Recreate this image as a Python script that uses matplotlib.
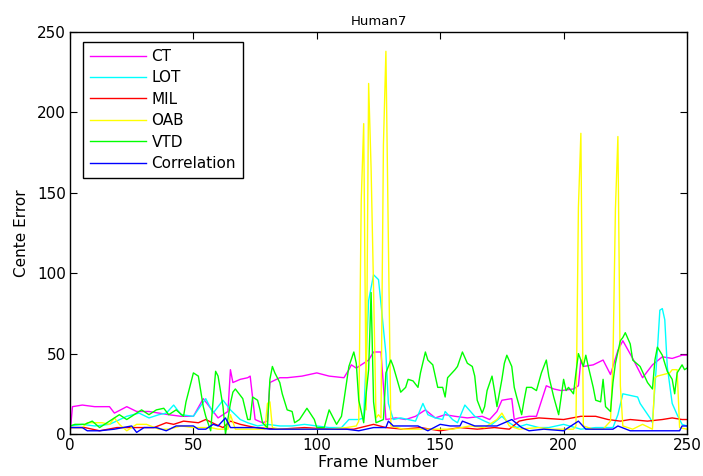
import matplotlib
matplotlib.use("Agg")
import matplotlib.pyplot as plt

plt.rcParams['font.family'] = ['DejaVu Sans']

# CT (magenta)
ct_frames = [0, 1, 5, 10, 16, 18, 23, 27, 32, 36, 40, 45, 50, 54, 57, 60, 62, 64, 65, 66,
             69, 72, 73, 75, 78, 80, 81, 85, 88, 94, 100, 105, 111, 113, 114, 116, 121, 123, 126, 127,
             128, 132, 136, 140, 144, 148, 152, 156, 161, 167, 170, 173, 175, 179, 180, 182, 186, 189, 193, 196,
             199, 204, 206, 207, 208, 212, 216, 219, 222, 224, 228, 232, 236, 240, 244, 248, 250]
ct_err = [0, 17, 18, 17, 17, 13, 17, 14, 14, 13, 12, 11, 11, 22, 16, 10, 12, 14, 40, 32,
          34, 35, 36, 9, 7, 8, 32, 35, 35, 36, 38, 36, 35, 40, 43, 41, 46, 51, 51, 30,
          9, 10, 9, 11, 15, 10, 12, 11, 10, 11, 9, 14, 21, 22, 9, 10, 11, 11, 30, 28,
          27, 28, 30, 46, 42, 43, 46, 37, 52, 58, 47, 35, 43, 48, 47, 49, 49]

# LOT (cyan)
lot_frames = [0, 5, 10, 16, 23, 28, 32, 36, 39, 42, 45, 50, 55, 58, 62, 65, 69, 72, 76, 80,
              85, 90, 95, 100, 105, 110, 113, 117, 119, 121, 123, 125, 126, 128, 129, 130, 131, 134, 137, 140,
              143, 145, 148, 151, 152, 155, 157, 160, 164, 168, 171, 175, 177, 181, 185, 190, 194, 200, 207, 213,
              220, 222, 224, 230, 231, 235, 236, 238, 239, 240, 241, 242, 244, 246, 248, 250]
lot_err = [5, 6, 5, 6, 11, 13, 10, 12, 13, 18, 12, 11, 22, 13, 21, 15, 9, 7, 5, 6,
           5, 5, 6, 5, 4, 4, 9, 9, 10, 83, 99, 96, 81, 50, 19, 14, 9, 10, 9, 8,
           19, 12, 10, 9, 14, 9, 7, 18, 11, 8, 6, 11, 8, 4, 6, 4, 4, 6, 3, 4,
           4, 12, 25, 23, 19, 10, 7, 52, 77, 78, 71, 42, 19, 12, 6, 5]

# MIL (red)
mil_frames = [0, 6, 12, 19, 26, 34, 39, 42, 46, 52, 55, 59, 62, 65, 69, 75, 85, 95, 105, 115,
              123, 128, 135, 142, 150, 158, 165, 172, 178, 182, 185, 190, 200, 207, 213, 218, 223, 227, 234, 240,
              244, 248, 250]
mil_err = [4, 4, 2, 4, 4, 4, 7, 6, 8, 7, 9, 6, 4, 8, 6, 4, 3, 4, 3, 3,
           6, 4, 3, 4, 2, 4, 3, 4, 3, 8, 9, 10, 9, 11, 11, 9, 8, 9, 8, 9,
           10, 9, 9]

# OAB (yellow)
oab_frames = [0, 5, 7, 13, 16, 18, 20, 23, 27, 31, 36, 40, 45, 50, 57, 60, 64, 65, 67, 75,
              79, 80, 81, 82, 85, 95, 105, 112, 116, 117, 118, 119, 120, 121, 122, 123, 124, 125, 126, 127,
              128, 129, 130, 135, 145, 155, 162, 168, 173, 175, 178, 182, 190, 195, 200, 204, 205, 206, 207, 208,
              212, 216, 219, 220, 221, 222, 223, 224, 228, 232, 236, 237, 238, 243, 244, 246, 247, 250]
oab_err = [4, 4, 7, 7, 6, 10, 6, 2, 6, 6, 3, 3, 5, 4, 4, 3, 3, 12, 3, 3,
           3, 19, 20, 4, 3, 3, 3, 4, 5, 8, 145, 193, 15, 218, 165, 90, 10, 12, 10, 180,
           238, 120, 5, 3, 3, 3, 5, 4, 9, 13, 5, 3, 4, 3, 3, 3, 5, 141, 187, 5,
           3, 3, 8, 45, 140, 185, 30, 5, 3, 6, 3, 35, 36, 38, 40, 40, 4, 3]

# VTD (green)
vtd_frames = [0, 2, 6, 9, 12, 15, 17, 20, 23, 26,
              29, 32, 35, 38, 40, 43, 46, 47, 50, 52,
              54, 55, 57, 58, 59, 60, 62, 63, 65, 66,
              67, 70, 72, 73, 74, 76, 77, 78, 80, 81,
              82, 83, 85, 86, 88, 90, 91, 93, 96, 99,
              100, 103, 105, 107, 108, 110, 111, 113, 115, 116,
              117, 119, 120, 121, 122, 123, 124, 127, 128, 130,
              131, 134, 136, 137, 139, 141, 142, 144, 145, 147,
              149, 151, 152, 153, 156, 157, 159, 161, 163, 164,
              165, 167, 168, 169, 171, 172, 173, 175, 176, 177,
              179, 180, 181, 183, 184, 185, 187, 189, 191, 193,
              194, 196, 198, 200, 201, 202, 204, 205, 206, 208,
              209, 210, 212, 213, 215, 216, 217, 219, 220, 221,
              223, 224, 225, 227, 228, 231, 234, 236, 237, 238,
              240, 242, 244, 245, 246, 248, 249, 250]
vtd_err = [5, 6, 6, 8, 4, 7, 9, 12, 9, 12,
           15, 12, 15, 16, 12, 15, 11, 20, 38, 36,
           17, 11, 2, 21, 39, 36, 17, 0, 19, 26,
           28, 22, 9, 9, 23, 21, 15, 7, 4, 34,
           42, 38, 32, 25, 15, 14, 7, 9, 16, 9,
           4, 4, 15, 9, 6, 11, 21, 42, 51, 44,
           21, 7, 25, 40, 88, 20, 7, 9, 38, 46,
           42, 26, 29, 34, 33, 29, 38, 51, 46, 43,
           29, 29, 23, 35, 40, 42, 51, 44, 42, 36,
           21, 13, 17, 27, 36, 27, 17, 34, 44, 49,
           42, 29, 23, 12, 21, 29, 29, 27, 38, 46,
           36, 23, 12, 34, 27, 29, 25, 38, 50, 42,
           49, 42, 29, 21, 20, 34, 17, 14, 32, 44,
           58, 60, 63, 56, 46, 42, 32, 28, 46, 54,
           49, 39, 34, 25, 38, 43, 40, 41]

# Correlation (blue)
corr_frames = [0, 5, 7, 12, 18, 25, 27, 30, 35, 39, 43, 50, 52, 55, 58, 60, 63, 65, 69, 75,
               81, 88, 95, 102, 112, 117, 123, 128, 129, 131, 141, 145, 150, 154, 158, 159, 164, 173, 179, 183,
               186, 192, 200, 206, 209, 220, 222, 227, 235, 247, 248, 250]
corr_err = [4, 4, 2, 2, 3, 5, 1, 4, 4, 2, 5, 5, 3, 3, 6, 5, 10, 4, 4, 4,
            3, 3, 3, 3, 3, 2, 4, 4, 8, 5, 5, 2, 6, 5, 5, 8, 5, 5, 9, 4,
            2, 3, 2, 8, 3, 3, 5, 2, 2, 2, 5, 5]

fig = plt.figure(figsize=(7.03, 4.76), dpi=100)
ax = fig.add_axes([70 / 703, 42 / 476, 617 / 703, 402 / 476])

ax.plot(ct_frames, ct_err, color='#ff00ff', lw=1, label='CT')
ax.plot(lot_frames, lot_err, color='#00ffff', lw=1, label='LOT')
ax.plot(mil_frames, mil_err, color='#ff0000', lw=1, label='MIL')
ax.plot(oab_frames, oab_err, color='#ffff00', lw=1, label='OAB')
ax.plot(vtd_frames, vtd_err, color='#00ff00', lw=1, label='VTD')
ax.plot(corr_frames, corr_err, color='#0000ff', lw=1, label='Correlation')

ax.set_xlim(0, 250)
ax.set_ylim(0, 250)
ax.set_xticks(range(0, 251, 50))
ax.set_yticks(range(0, 251, 50))
ax.tick_params(direction='in', top=True, right=True, length=5, labelsize=11, pad=3)
for s in ax.spines.values():
    s.set_linewidth(1)

ax.set_title('Human7', fontsize=9.5, pad=5)
ax.set_xlabel('Frame Number', fontsize=11.5, labelpad=1)
ax.set_ylabel('Cente Error', fontsize=11, labelpad=6)

leg = ax.legend(loc='upper left', bbox_to_anchor=(13 / 617, 1 - 10 / 402), borderaxespad=0,
                fontsize=11, handlelength=3.7, handletextpad=0.33, labelspacing=0.42,
                borderpad=0.45, fancybox=False, framealpha=1, edgecolor='black')
leg.get_frame().set_linewidth(1)

fig.savefig('out.png', dpi=100)
